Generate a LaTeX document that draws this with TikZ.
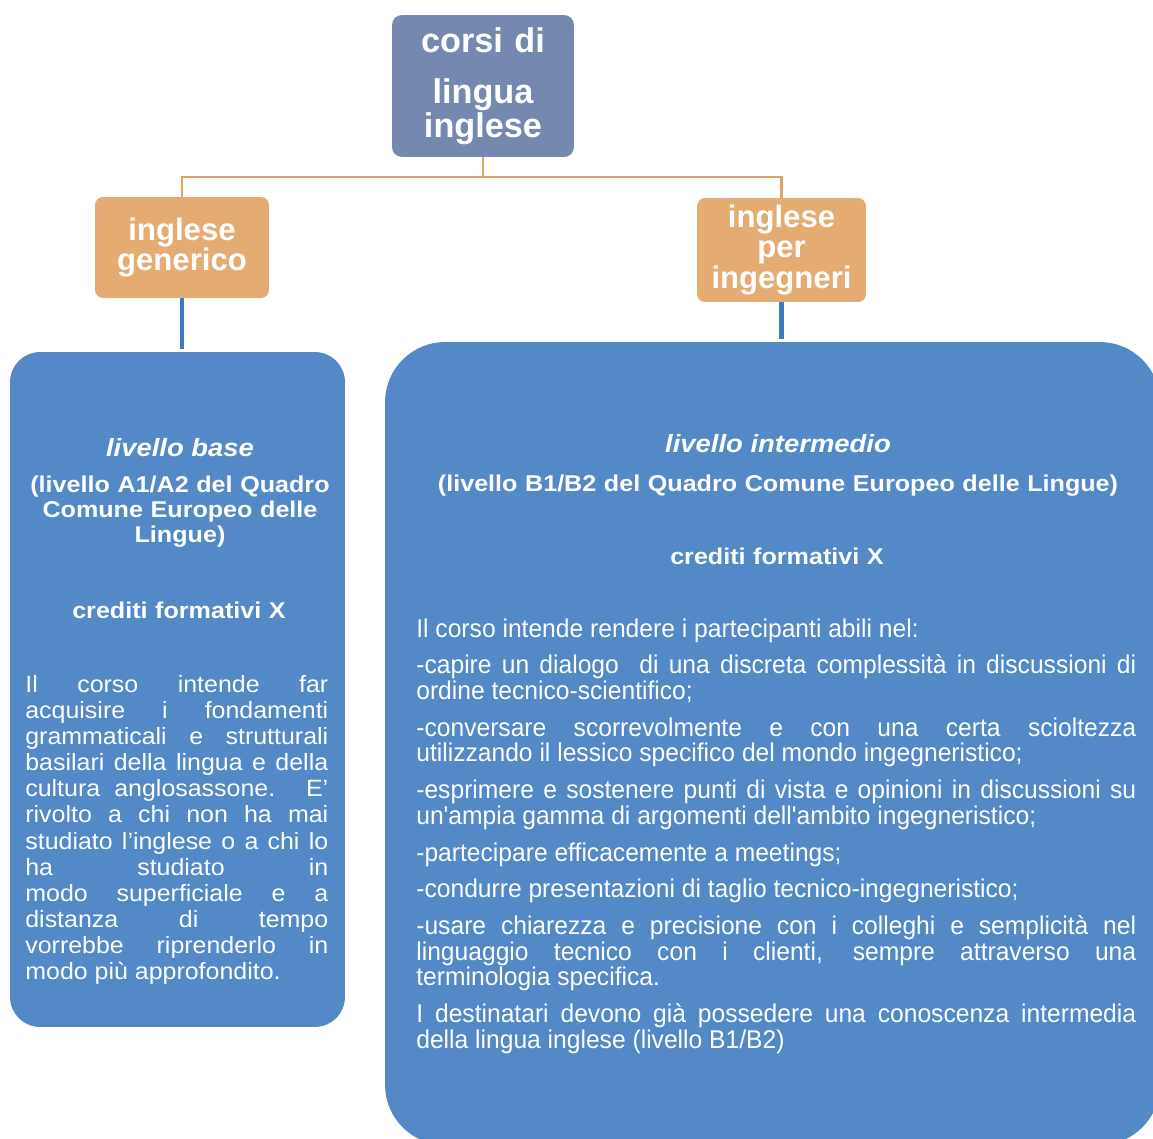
\documentclass[tikz,border=0pt]{standalone}
\usepackage{fontspec}
\setmainfont{Liberation Sans}
\newfontfamily\headfont[FakeStretch=1.1]{Liberation Sans}
\newfontfamily\bodyfont[FakeStretch=1.06]{Liberation Sans}
\newfontfamily\narrowfont[FakeStretch=0.96]{Liberation Sans}
\usetikzlibrary{positioning}
\definecolor{slate}{HTML}{7488B0}
\definecolor{sand}{HTML}{E4AC72}
\definecolor{sandline}{HTML}{E0A464}
\definecolor{sky}{HTML}{5289C6}
\definecolor{skyline}{HTML}{3F7BC0}

\begin{document}
\begin{tikzpicture}[x=0.02cm, y=-0.02cm, topnode/.style={rectangle, rounded corners=0.2cm, fill=slate, text=white, inner sep=0pt, text width=3.5cm, align=center, font=\fontsize{19.5}{19.3}\selectfont\bfseries}, sandnode/.style={rectangle, rounded corners=0.16cm, fill=sand, text=white, inner sep=0pt, text width=3.3cm, align=center}, skynode/.style={rectangle, fill=sky, inner sep=0pt}, labeltitle/.style={text=white, inner sep=0pt, anchor=base, font=\headfont\fontsize{14.2}{16}\selectfont\bfseries\itshape}, labelhead/.style={text=white, inner sep=0pt, anchor=base, text width=6.4cm, align=center, font=\headfont\fontsize{13}{14.5}\selectfont\bfseries}, sandedge/.style={draw=sandline, line width=1.5pt}, skyedge/.style={draw=skyline, line width=2.3pt, shorten >=0.06cm}]

    \useasboundingbox (0,0) rectangle (1153,1139);
    \clip (0,0) rectangle (1153,1139);

    %Nodes
    \node[topnode, minimum width=3.64cm, minimum height=2.84cm](corsi) at (483,86){corsi di\\[9.6pt]lingua\\inglese};
    \node[sandnode, minimum width=3.48cm, minimum height=2.02cm, font=\fontsize{17.7}{15.3}\selectfont\bfseries](generico) at (182,247.5){inglese\\generico};
    \node[sandnode, minimum width=3.38cm, minimum height=2.08cm, font=\fontsize{17.7}{17.6}\selectfont\bfseries](ingegneri) at (781.5,250){inglese\\per\\ingegneri};
    \node[skynode, rounded corners=0.6cm, minimum width=6.7cm, minimum height=13.5cm](base) at (177.5,689.5){};
    \node[skynode, rounded corners=1.2cm, minimum width=15.5cm, minimum height=16.06cm](intermedio) at (772.5,743.5){};
    \coordinate (fork) at (483,177);

    %Text of livello base
    \node[labeltitle](basetitle) at (180,456){livello base};
    \node[labelhead](basehead) at (180,492){(livello A1/A2 del Quadro\\Comune Europeo delle\\Lingue)};
    \node[labelhead](basecrediti) at (179,618){crediti formativi X};
    \node[text=white, inner sep=0pt, anchor=base west, text width=6.06cm, align=justify, font=\bodyfont\fontsize{13.4}{14.9}\selectfont](basetext) at (25,692){Il corso intende far\linebreak acquisire i fondamenti\linebreak grammaticali e strutturali\linebreak basilari della lingua e della\linebreak cultura anglosassone. E’\linebreak rivolto a chi non ha mai\linebreak studiato l’inglese o a chi lo\linebreak ha studiato in\linebreak modo superficiale e a\linebreak distanza di tempo\linebreak vorrebbe riprenderlo in\linebreak modo più approfondito.};

    %Text of livello intermedio
    \node[labeltitle](intertitle) at (778,452){livello intermedio};
    \node[labelhead, text width=14cm](interhead) at (778,491){(livello B1/B2 del Quadro Comune Europeo delle Lingue)};
    \node[labelhead](intercrediti) at (777,564){crediti formativi X};
    \node[text=white, inner sep=0pt, anchor=base west, text width=14.4cm, align=justify, font=\narrowfont\fontsize{14.6}{14.5}\selectfont](intertext) at (416,637){\setlength{\parskip}{6.5pt}Il corso intende rendere i partecipanti abili nel:\par
    -capire un dialogo\ \ di una discreta complessità in discussioni di\linebreak ordine tecnico-scientifico;\par
    -conversare scorrevolmente e con una certa scioltezza\linebreak utilizzando il lessico specifico del mondo ingegneristico;\par
    -esprimere e sostenere punti di vista e opinioni in discussioni su\linebreak un'ampia gamma di argomenti dell'ambito ingegneristico;\par
    -partecipare efficacemente a meetings;\par
    -condurre presentazioni di taglio tecnico-ingegneristico;\par
    -usare chiarezza e precisione con i colleghi e semplicità nel\linebreak linguaggio tecnico con i clienti, sempre attraverso una\linebreak terminologia specifica.\par
    I destinatari devono già possedere una conoscenza intermedia\linebreak della lingua inglese (livello B1/B2)};

    %Lines
    \draw[sandedge] (corsi.south) -- (fork) -| (generico.north);
    \draw[sandedge] (fork) -| (ingegneri.north);
    \draw[skyedge] (generico.south) -- (generico.south |- base.north);
    \draw[skyedge] (ingegneri.south) -- (ingegneri.south |- intermedio.north);

\end{tikzpicture}
\end{document}
